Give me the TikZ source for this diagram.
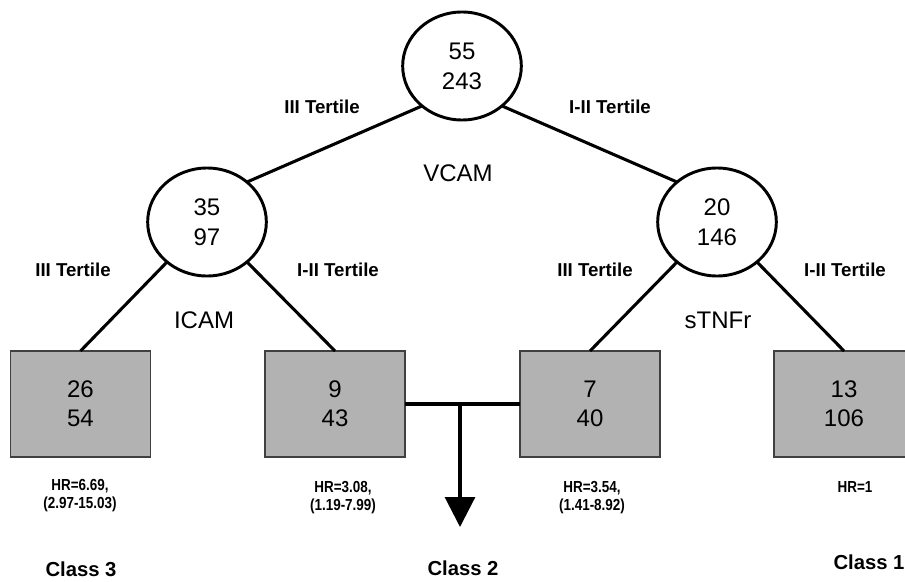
\documentclass[tikz,border=0pt]{standalone}
\usepackage{fontspec}
\setmainfont{Liberation Sans}
\usetikzlibrary{shapes.geometric,arrows.meta}
\newcommand{\slim}[1]{\scalebox{0.84}[1]{#1}}

\begin{document}
\begin{tikzpicture}[x=0.75pt, y=-0.75pt,
  split/.style={ellipse, draw, line width=2.2pt, fill=white, minimum width=89pt,
    minimum height=81pt, inner sep=0pt, outer sep=0pt, align=center,
    font=\fontsize{18}{22.5}\selectfont},
  leaf/.style={rectangle, draw=black!75, line width=1.1pt, fill=black!30,
    minimum width=105pt, minimum height=79.5pt, inner sep=0pt, outer sep=0pt,
    align=center, font=\fontsize{18}{22}\selectfont},
  tert/.style={inner sep=0pt, font=\fontsize{14}{16}\selectfont\bfseries},
  marker/.style={inner sep=0pt, font=\fontsize{18}{22}\selectfont},
  hr/.style={inner sep=0pt, align=center, font=\fontsize{12}{13.5}\selectfont\bfseries},
  cls/.style={inner sep=0pt, font=\fontsize{15.2}{18}\selectfont\bfseries},
  edge/.style={line width=2.3pt}]
  \useasboundingbox (0,0) rectangle (905,581);

  \node[split] (vcam) at (462,66) {55\\243};
  \node[split] (icam) at (207,222) {35\\97};
  \node[split] (stnfr) at (717,222) {20\\146};

  \node[leaf] (leafa) at (80.5,404) {26\\54};
  \node[leaf] (leafb) at (335,404) {9\\43};
  \node[leaf] (leafc) at (590,404) {7\\40};
  \node[leaf] (leafd) at (844,404) {13\\106};

  \draw[edge] (vcam.225) -- (icam.45);
  \draw[edge] (vcam.-45) -- (stnfr.135);
  \draw[edge] (icam.225) -- (leafa.north);
  \draw[edge] (icam.-45) -- (leafb.north);
  \draw[edge] (stnfr.225) -- (leafc.north);
  \draw[edge] (stnfr.-45) -- (leafd.north);

  \coordinate (join) at (460,404);
  \coordinate (goal) at (460,527);
  \draw[edge] (leafb.east) -- (leafc.west);
  \draw[edge, -{Triangle[width=22.5pt,length=22.5pt]}] (join) -- (goal);

  \node[tert] (t1) at (322,107) {III Tertile};
  \node[tert] (t2) at (610,107) {I-II Tertile};
  \node[tert] (t3) at (73,270) {III Tertile};
  \node[tert] (t4) at (338,270) {I-II Tertile};
  \node[tert] (t5) at (595,270) {III Tertile};
  \node[tert] (t6) at (845,270) {I-II Tertile};

  \node[marker] (lvcam) at (458,173) {VCAM};
  \node[marker] (licam) at (204,320) {ICAM};
  \node[marker] (lstnfr) at (718,320) {sTNFr};

  \node[hr] (hra) at (80,496) {\slim{HR=6.69,}\\\slim{(2.97-15.03)}};
  \node[hr] (hrb) at (343,498) {\slim{HR=3.08,}\\\slim{(1.19-7.99)}};
  \node[hr] (hrc) at (592,498) {\slim{HR=3.54,}\\\slim{(1.41-8.92)}};
  \node[hr] (hrd) at (855,487) {\slim{HR=1}};

  \node[cls] (c3) at (81,569) {Class 3};
  \node[cls] (c2) at (463,568) {Class 2};
  \node[cls] (c1) at (869,562) {Class 1};
\end{tikzpicture}
\end{document}
